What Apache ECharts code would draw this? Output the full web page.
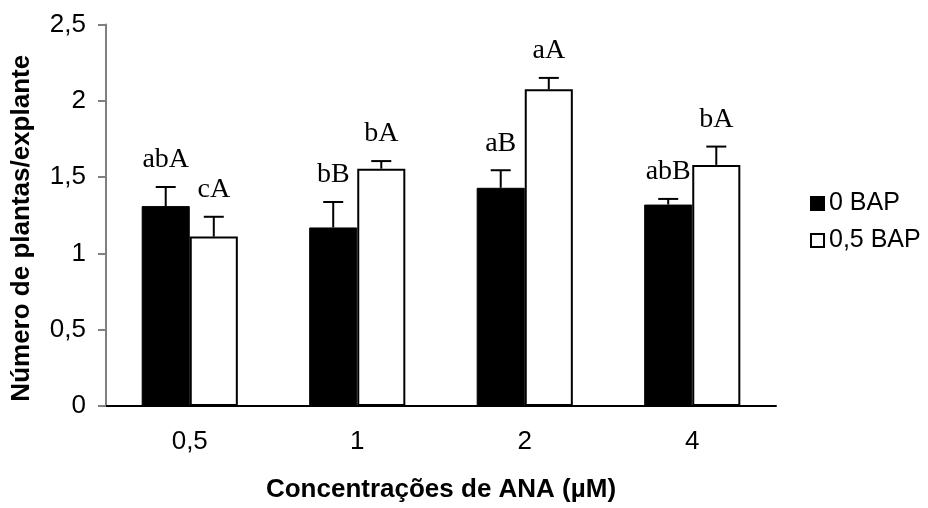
<!DOCTYPE html>
<html>
<head>
    <meta charset="utf-8">
    <title>Plantas por explante</title>
    <script src="https://cdn.jsdelivr.net/npm/echarts@6/dist/echarts.min.js"></script>
    <style>
        html, body { margin: 0; padding: 0; background: #fff; }
    </style>
</head>
<body>
<div id="main" style="width: 928px;height:508px;"></div>
<script type="text/javascript">
    // dados
    var categorias = ['0,5', '1', '2', '4'];
    var serieNomes = ['0 BAP', '0,5 BAP'];
    var bap0 = [1.31, 1.17, 1.43, 1.32];
    var bap0Erro = [0.125, 0.167, 0.115, 0.037];
    var bap05 = [1.11, 1.555, 2.075, 1.58];
    var bap05Erro = [0.13, 0.05, 0.075, 0.12];
    var letras0 = ['abA', 'bB', 'aB', 'abB'];
    var letras05 = ['cA', 'bA', 'aA', 'bA'];
    var yTicks = [0, 0.5, 1, 1.5, 2, 2.5];

    var sans = 'Liberation Sans, Arial, sans-serif';
    var serif = 'Liberation Serif, Times New Roman, serif';
    var barFrac = 0.287; // largura de cada barra / largura da categoria

    function errorData(vals, errs) {
        var out = [];
        for (var i = 0; i < vals.length; i++) {
            out.push([i, vals[i], errs[i]]);
        }
        return out;
    }

    function makeRender(lado, letras) {
        return function (params, api) {
            var idx = api.value(0);
            var val = api.value(1);
            var err = api.value(2);
            var bw = api.size([1, 0])[0] * barFrac;
            var base = api.coord([idx, val]);
            var topo = api.coord([idx, val + err]);
            var x = base[0] + lado * bw / 2;
            var capW = 10;
            return {
                type: 'group',
                children: [
                    { type: 'line', shape: { x1: x, y1: base[1], x2: x, y2: topo[1] },
                      style: { stroke: '#000', lineWidth: 2 } },
                    { type: 'line', shape: { x1: x - capW, y1: topo[1], x2: x + capW, y2: topo[1] },
                      style: { stroke: '#000', lineWidth: 2 } },
                    { type: 'text', x: x, y: topo[1] - 13,
                      style: { text: letras[params.dataIndex], fill: '#000', font: '28px ' + serif,
                               align: 'center', verticalAlign: 'bottom' } }
                ]
            };
        };
    }

    var chart = echarts.init(document.getElementById('main'));
    chart.setOption({
        animation: false,
        backgroundColor: '#fff',
        grid: { left: 106, right: 152, top: 24.5, bottom: 98 },
        legend: {
            data: serieNomes,
            orient: 'vertical',
            left: 805,
            top: 186,
            itemWidth: 13,
            itemHeight: 13,
            itemGap: 12,
            icon: 'rect',
            textStyle: { fontFamily: sans, fontSize: 25, color: '#000' }
        },
        xAxis: {
            type: 'category',
            data: categorias,
            name: 'Concentrações de ANA (µM)',
            nameLocation: 'middle',
            nameGap: 71,
            nameTextStyle: { fontFamily: sans, fontSize: 26, fontWeight: 'bold', color: '#000' },
            axisLine: { lineStyle: { color: '#000', width: 2 } },
            axisTick: { length: 8, lineStyle: { color: '#808080', width: 2 } },
            axisLabel: { fontFamily: sans, fontSize: 26, color: '#000', margin: 23 }
        },
        yAxis: {
            type: 'value',
            min: yTicks[0],
            max: yTicks[yTicks.length - 1],
            interval: 0.5,
            name: 'Número de plantas/explante',
            nameLocation: 'middle',
            nameGap: 71,
            nameTextStyle: { fontFamily: sans, fontSize: 26, fontWeight: 'bold', color: '#000',
                             padding: [0, 26, 0, 0] },
            axisLine: { show: true, lineStyle: { color: '#808080', width: 2 } },
            axisTick: { show: true, length: 8, lineStyle: { color: '#808080', width: 2 } },
            splitLine: { show: false },
            axisLabel: {
                fontFamily: sans, fontSize: 26, color: '#000', margin: 20,
                formatter: function (v) { return String(v).replace('.', ','); }
            }
        },
        series: [
            {
                name: serieNomes[0], type: 'bar', data: bap0,
                barWidth: (barFrac * 100) + '%', barGap: '0%',
                itemStyle: { color: '#000', borderColor: '#000', borderWidth: 1 }
            },
            {
                name: serieNomes[1], type: 'bar', data: bap05,
                barWidth: (barFrac * 100) + '%', barGap: '0%',
                itemStyle: { color: '#fff', borderColor: '#000', borderWidth: 2 }
            },
            {
                type: 'custom', name: 'erro0', renderItem: makeRender(-1, letras0),
                data: errorData(bap0, bap0Erro), z: 5,
                encode: { x: 0, y: 1 }
            },
            {
                type: 'custom', name: 'erro05', renderItem: makeRender(1, letras05),
                data: errorData(bap05, bap05Erro), z: 5,
                encode: { x: 0, y: 1 }
            }
        ]
    });
</script>
</body>
</html>
